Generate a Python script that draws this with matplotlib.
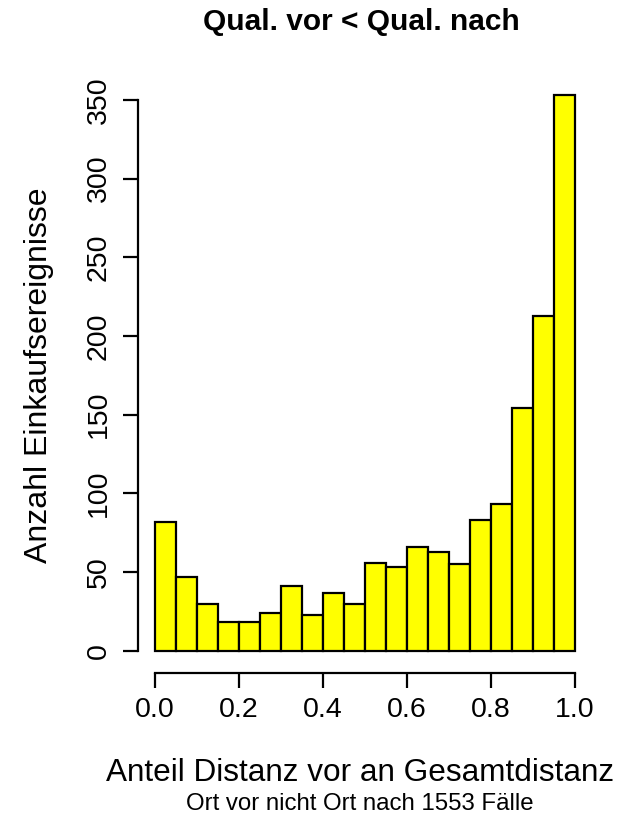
import numpy as np
import matplotlib
matplotlib.use("Agg")
import matplotlib.pyplot as plt

plt.rcParams['font.family'] = ['Liberation Sans', 'DejaVu Sans']

# histogram counts, 20 bins of width 0.05 on [0, 1]
bin_edges = [i / 20 for i in range(21)]
counts = [82, 47, 30, 18, 18, 24, 41, 23, 37, 30,
          56, 53, 66, 63, 55, 83, 93, 154, 213, 353]
x_ticks = [0.0, 0.2, 0.4, 0.6, 0.8, 1.0]
x_tick_labels = ["0.0", "0.2", "0.4", "0.6", "0.8", "1.0"]
y_ticks = [0, 50, 100, 150, 200, 250, 300, 350]

title = "Qual. vor < Qual. nach"
xlabel = "Anteil Distanz vor an Gesamtdistanz"
sublabel = "Ort vor nicht Ort nach 1553 Fälle"
ylabel = "Anzahl Einkaufsereignisse"

fig = plt.figure(figsize=(6.37, 8.17), dpi=100)
ax = fig.add_axes([0.2166, 0.1763, 0.7127, 0.7344])

edges = np.array(bin_edges)
ax.bar(edges[:-1], counts, width=np.diff(edges), align="edge",
       color="#ffff00", edgecolor="black", linewidth=1.6)

# R style padding of 4 %
ymax = max(counts)
ax.set_xlim(-0.04, 1.04)
ax.set_ylim(-0.04 * ymax, 1.04 * ymax)

for s in ["top", "right"]:
    ax.spines[s].set_visible(False)
ax.spines["left"].set_bounds(0, 350)
ax.spines["bottom"].set_bounds(0, 1)
ax.spines["left"].set_linewidth(1.6)
ax.spines["bottom"].set_linewidth(1.6)

ax.set_xticks(x_ticks)
ax.set_xticklabels(x_tick_labels)
ax.set_yticks(y_ticks)
ax.set_yticklabels([str(v) for v in y_ticks], rotation=90, va="center")
ax.tick_params(axis="both", length=11, width=1.6, labelsize=20.5, pad=6)
ax.tick_params(axis="y", pad=8)

fig.text(0.568, 0.973, title, ha="center", va="center", fontsize=21.5, fontweight="bold")
fig.text(0.565, 0.054, xlabel, ha="center", va="center", fontsize=22.7)
fig.text(0.565, 0.016, sublabel, ha="center", va="center", fontsize=17.3)
fig.text(0.062, 0.541, ylabel, ha="center", va="center", rotation=90, fontsize=23)

fig.savefig("out.png", dpi=100, facecolor="white")
